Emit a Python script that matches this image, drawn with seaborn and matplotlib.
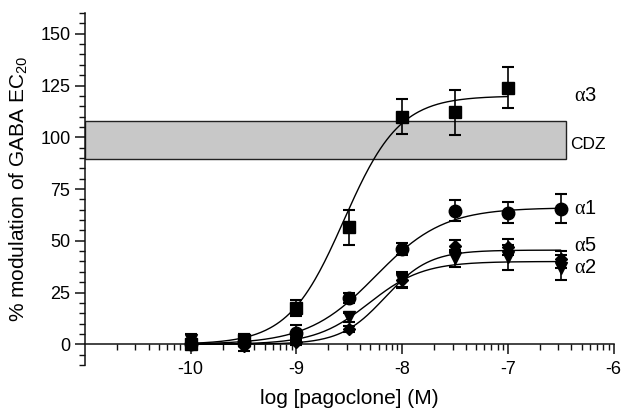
import numpy as np
import pandas as pd
import matplotlib
matplotlib.use("Agg")
import matplotlib.pyplot as plt
import seaborn as sns
from matplotlib.patches import Rectangle

# ===============================
# Data
# ===============================
log_conc = [-10, -9.5, -9, -8.5, -8, -7.5, -7, -6.5]

a3_mean = [0, 2, 17.5, 56.5, 110, 112, 124]
a3_err = [2, 3, 4, 8.5, 8.5, 11, 10]
a1_mean = [0, 1, 5.5, 22.5, 46, 64.5, 63.5, 65.5]
a1_err = [2, 2, 4, 2.5, 3, 5, 5, 7]
a5_mean = [0, -1, 1, 7.5, 31, 47.5, 47, 41]
a5_err = [2, 2, 1.5, 1.5, 3.5, 3, 4, 4]
a2_mean = [2, 2, 1.5, 13, 31, 41.5, 42, 37]
a2_err = [3, 3, 1.5, 2, 4, 4, 6, 6]

# sigmoid fit parameters (bottom = 0)
subunits = ["α3", "α1", "α5", "α2"]
fit_top = [120, 66, 45.5, 40]
fit_logec50 = [-8.55, -8.25, -8.16, -8.31]
fit_hill = [1.65, 1.35, 2.07, 1.71]
fit_end = [-7, -6.5, -6.5, -6.5]

cdz_range = [89.5, 108]

# ===============================
# Style
# ===============================
sns.set_style("ticks")
plt.rcParams["font.family"] = ["Liberation Sans", "DejaVu Sans"]
plt.rcParams["axes.unicode_minus"] = False
plt.rcParams["mathtext.fontset"] = "custom"
plt.rcParams["mathtext.rm"] = "Liberation Sans"
plt.rcParams["mathtext.it"] = "Liberation Serif"
for key in ["text.color", "axes.labelcolor", "xtick.color", "ytick.color"]:
    plt.rcParams[key] = "black"

fig, ax = plt.subplots(figsize=(6.23, 4.09), dpi=100)
fig.subplots_adjust(left=0.1364, right=0.9848, top=0.968, bottom=0.1076)

# CDZ band
ax.add_patch(Rectangle((-11, cdz_range[0]), 4.55, cdz_range[1] - cdz_range[0],
                       facecolor="#c8c8c8", edgecolor="#222222", linewidth=1.0, zorder=1))

# fitted curves
rows = []
for name, top, ec50, hill, end in zip(subunits, fit_top, fit_logec50, fit_hill, fit_end):
    xs = np.linspace(-10, end, 200)
    ys = top / (1 + 10 ** ((ec50 - xs) * hill))
    rows.append(pd.DataFrame({"x": xs, "y": ys, "subunit": name}))
curves = pd.concat(rows)
sns.lineplot(data=curves, x="x", y="y", hue="subunit", units="subunit", estimator=None,
             palette=["black"] * 4, linewidth=1.0, legend=False, ax=ax, zorder=3)

# points with error bars
series = [
    (a3_mean, a3_err, "s", 8.5),
    (a1_mean, a1_err, "o", 9),
    (a5_mean, a5_err, "D", 6.5),
    (a2_mean, a2_err, "v", 9),
]
for mean, err, marker, ms in series:
    ax.errorbar(log_conc[:len(mean)], mean, yerr=err, fmt=marker, ms=ms, color="black",
                ecolor="black", elinewidth=1.2, capsize=4.5, capthick=1.5, zorder=4)

# labels on the right
lab_kw = dict(fontsize=14.5, ha="left", va="center")
ax.text(-6.37, 120, r"$\alpha$3", **lab_kw)
ax.text(-6.37, 65.4, r"$\alpha$1", **lab_kw)
ax.text(-6.37, 47.7, r"$\alpha$5", **lab_kw)
ax.text(-6.37, 37.3, r"$\alpha$2", **lab_kw)
ax.text(-6.41, 96.7, "CDZ", fontsize=12.5, ha="left", va="center")

# axes
ax.set_xlim(-11, -6)
ax.set_ylim(-10, 160)
ax.spines["top"].set_visible(False)
ax.spines["right"].set_visible(False)
ax.spines["bottom"].set_position(("data", 0))
for sp in ["left", "bottom"]:
    ax.spines[sp].set_linewidth(1.1)
    ax.spines[sp].set_color("#111111")

ax.set_xticks([-10, -9, -8, -7, -6])
ax.set_xticks([d + np.log10(k) for d in range(-11, -6) for k in range(2, 10)], minor=True)
ax.set_yticks(range(0, 151, 25))
ax.set_yticks(range(-10, 161, 5), minor=True)
ax.tick_params(which="major", length=7, width=1.1, labelsize=13, color="#111111")
ax.tick_params(which="minor", length=4, width=1.0, color="#111111")
ax.tick_params(axis="x", which="major", pad=5)

ax.set_xlabel("log [pagoclone] (M)", fontsize=15, labelpad=8)
ax.set_ylabel("% modulation of GABA EC$_{20}$", fontsize=15, labelpad=8)

plt.savefig("out.png", dpi=100)
plt.close()
